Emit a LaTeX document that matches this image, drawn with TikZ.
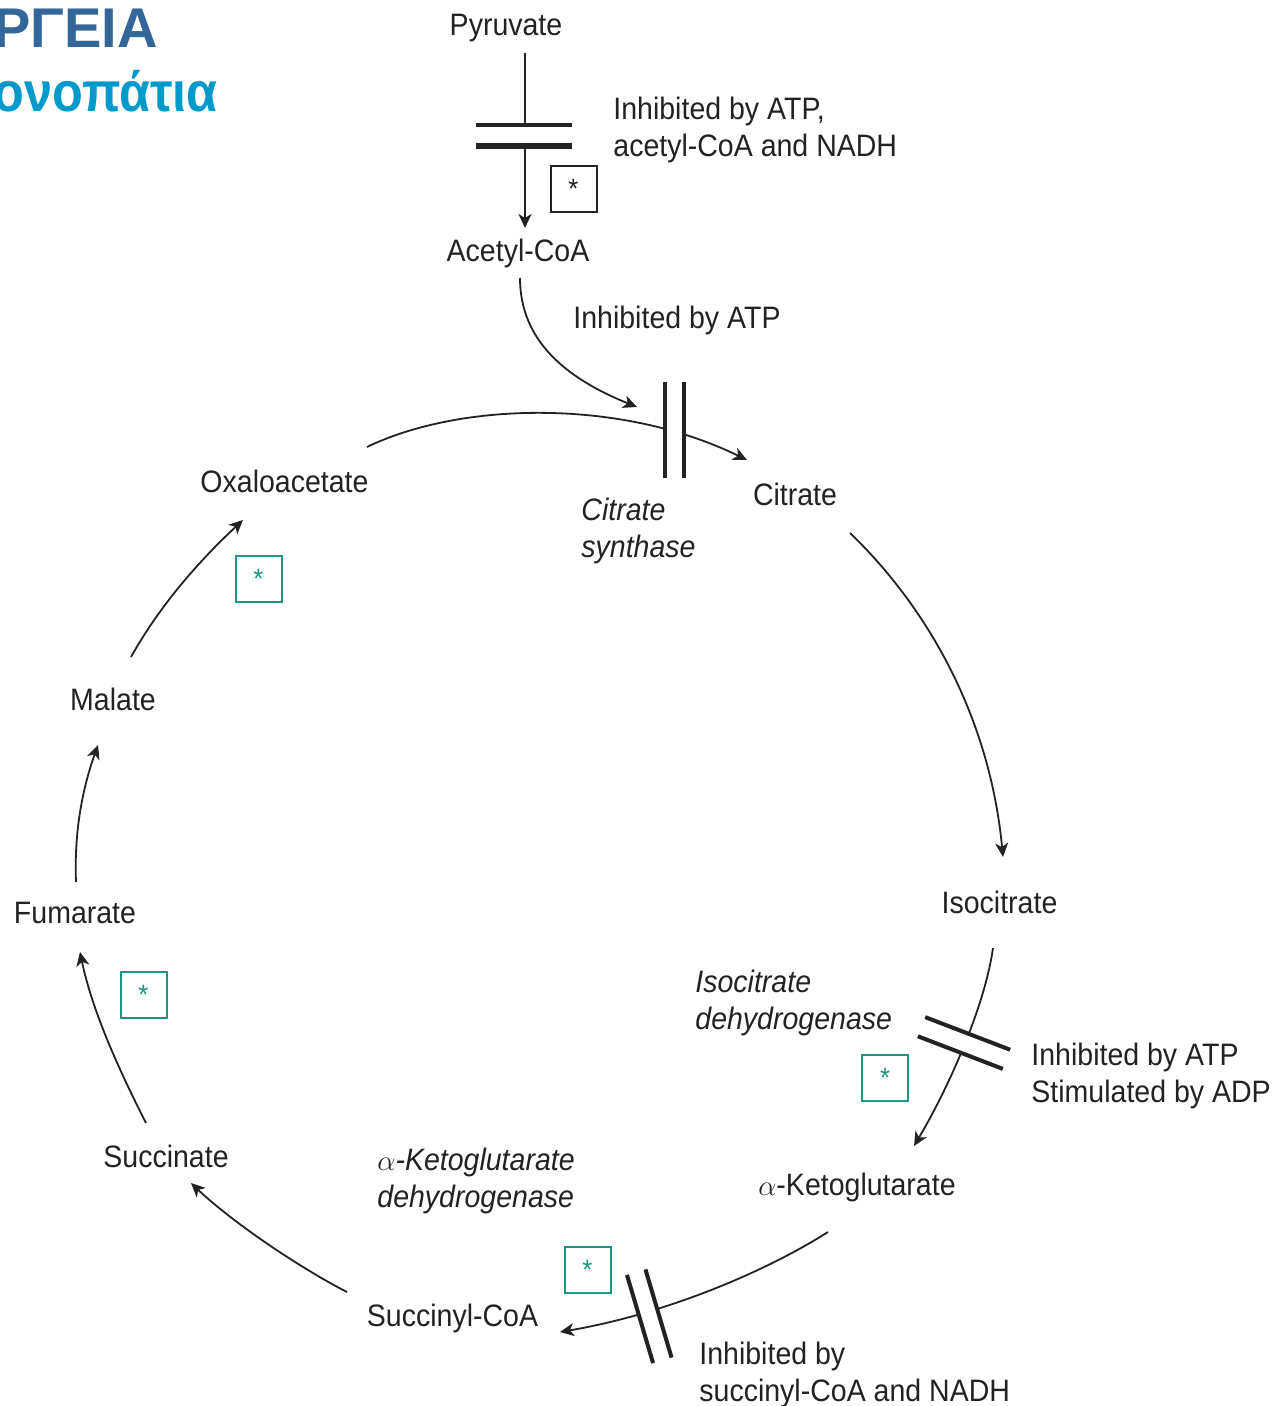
\documentclass[tikz,border=0pt]{standalone}
\usepackage{fontspec}
\setmainfont{Liberation Sans}[FakeStretch=0.92]
\newfontfamily\titlefont{Liberation Sans}
\newfontfamily\subtitlefont{Liberation Sans}[FakeStretch=0.9]
\usetikzlibrary{arrows.meta}
\definecolor{ink}{HTML}{222222}
\definecolor{boxteal}{HTML}{1A9682}
\definecolor{titleblue}{HTML}{336699}
\definecolor{titlecyan}{HTML}{0099CC}
\begin{document}
\begin{tikzpicture}[x=0.5pt,y=-0.5pt,
  lbl/.style={text=ink, inner sep=0pt, font=\fontsize{15.5}{18.5}\selectfont},
  met/.style={lbl, anchor=base},
  note/.style={lbl, align=left, anchor=base west},
  enz/.style={note, font=\fontsize{15.5}{18.5}\selectfont\itshape},
  arr/.style={draw=ink, line width=0.9pt, -{Stealth[length=7pt,width=6.5pt,inset=2pt]}},
  gapbox/.style={fill=white, inner sep=0pt, outer sep=0pt},
  barline/.style={draw=ink, line width=2pt},
  starbox/.style={draw=boxteal, line width=1pt, minimum size=23pt, inner sep=0pt,
    text=boxteal, font=\fontsize{14}{14}\selectfont},
  blackbox/.style={starbox, draw=ink, text=ink}
]
\useasboundingbox (0,0) rectangle (1280,1406);
\clip (0,0) rectangle (1280,1406);

% heading
\node[anchor=base east, inner sep=0pt, text=titleblue,
  font=\titlefont\bfseries\fontsize{28}{30}\selectfont] (title) at (158,48) {ΡΓΕΙΑ};
\node[anchor=base east, inner sep=0pt, text=titlecyan,
  font=\subtitlefont\bfseries\fontsize{28}{30}\selectfont] (subtitle) at (218,112) {ονοπάτια};

% metabolites
\node[met] (pyr)    at (506,36)    {Pyruvate};
\node[met] (acetyl) at (518,262)   {Acetyl-CoA};
\node[met] (cit)    at (795,505)   {Citrate};
\node[met] (iso)    at (999.5,913) {Isocitrate};
\node[met] (akg)    at (857,1195)  {$\alpha$-Ketoglutarate};
\node[met] (succoa) at (452.5,1326){Succinyl-CoA};
\node[met] (succ)   at (166,1167)  {Succinate};
\node[met] (fum)    at (75,923)    {Fumarate};
\node[met] (mal)    at (113,710)   {Malate};
\node[met] (oxa)    at (284.5,492) {Oxaloacetate};

% regulation notes (anchored at the baseline of the last line)
\node[note] (n1) at (613,157)  {Inhibited by ATP,\\acetyl-CoA and NADH};
\node[note] (n2) at (573,329)  {Inhibited by ATP};
\node[note] (n3) at (1031,1102){Inhibited by ATP\\Stimulated by ADP};
\node[note] (n4) at (699,1401) {Inhibited by\\succinyl-CoA and NADH};

% enzymes
\node[enz] (e1) at (581,557)  {Citrate\\synthase};
\node[enz] (e2) at (695,1029) {Isocitrate\\dehydrogenase};
\node[enz] (e3) at (377,1207) {$\alpha$-Ketoglutarate\\dehydrogenase};

% inhibition bar positions
\node[gapbox, minimum width=48pt, minimum height=10.5pt] (pdh) at (524,135.5) {};
\node[gapbox, minimum width=48pt, minimum height=9.5pt, rotate=90] (cs) at (674.5,430) {};
\node[gapbox, minimum width=45.5pt, minimum height=10.25pt, rotate=-21] (idh) at (964,1043) {};
\node[gapbox, minimum width=46pt, minimum height=9.65pt, rotate=-73.5] (kdh) at (649.25,1316.25) {};

% reactions
\draw[arr] ([shift={(19,17)}]pyr.base) -- ([shift={(7,-34)}]acetyl.base);
\draw[arr] ([shift={(2,16)}]acetyl.base) .. controls (520,340) and (565,378) .. ([shift={(-37.5,-23)}]cs.center);
\draw[arr] ([shift={(82.5,-45)}]oxa.base) .. controls (460,402) and (620,398) .. ([shift={(-48,-45)}]cit.base);
\draw[arr] ([shift={(55,28)}]cit.base) .. controls (930,610) and (990,720) .. ([shift={(3.5,-56)}]iso.base);
\draw[arr] ([shift={(-6.5,35)}]iso.base) .. controls (985,1005) and (950,1085) .. ([shift={(57,-49)}]akg.base);
\draw[arr] ([shift={(-29,37)}]akg.base) .. controls (760,1275) and (660,1315) .. ([shift={(107.5,6)}]succoa.base);
\draw[arr] ([shift={(-105.5,-34)}]succoa.base) .. controls (300,1268) and (232,1222) .. ([shift={(25,16)}]succ.base);
\draw[arr] ([shift={(-20,-44)}]succ.base) .. controls (118,1068) and (92,1010) .. ([shift={(5,29)}]fum.base);
\draw[arr] ([shift={(1,-41)}]fum.base) .. controls (74,830) and (83,787) .. ([shift={(-15,35)}]mal.base);
\draw[arr] ([shift={(18,-53)}]mal.base) .. controls (160,605) and (200,560) .. ([shift={(-41.5,28)}]oxa.base);

% inhibition bars drawn over the reaction lines
\node[gapbox, minimum width=48pt, minimum height=10.5pt] at (pdh.center) {};
\node[gapbox, minimum width=48pt, minimum height=9.5pt, rotate=90] at (cs.center) {};
\node[gapbox, minimum width=45.5pt, minimum height=10.25pt, rotate=-21] at (idh.center) {};
\node[gapbox, minimum width=46pt, minimum height=9.65pt, rotate=-73.5] at (kdh.center) {};
\draw[barline] (pdh.north west) -- (pdh.north east);
\draw[barline, line width=3pt] (pdh.south west) -- (pdh.south east);
\foreach \b in {cs,idh,kdh}{
  \draw[barline] (\b.north west) -- (\b.north east);
  \draw[barline] (\b.south west) -- (\b.south east);
}

% regulated steps
\node[blackbox] (s0) at (573.5,189)    {\raisebox{-0.22em}{*}};
\node[starbox]  (s1) at (258.5,579)    {\raisebox{-0.22em}{*}};
\node[starbox]  (s2) at (143.5,994.5)  {\raisebox{-0.22em}{*}};
\node[starbox]  (s3) at (885,1078)     {\raisebox{-0.22em}{*}};
\node[starbox]  (s4) at (587.5,1269.5) {\raisebox{-0.22em}{*}};
\end{tikzpicture}
\end{document}
